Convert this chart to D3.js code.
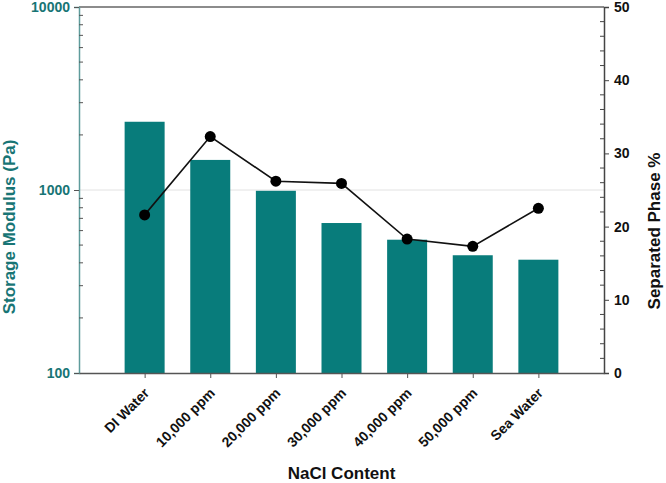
<!DOCTYPE html>
<html>
<head>
<meta charset="utf-8">
<script src="https://cdn.jsdelivr.net/npm/d3@7"></script>
<style>
	body { margin: 0; background: #fff; }
	text { font-family: Arial, "Liberation Sans", sans-serif; font-weight: bold; }
</style>
</head>
<body>
<div id="chart"></div>
<script>
// data
var categories = ["DI Water", "10,000 ppm", "20,000 ppm", "30,000 ppm", "40,000 ppm", "50,000 ppm", "Sea Water"];
var storageModulus = [2360, 1460, 990, 660, 535, 440, 416];
var separatedPhase = [21.6, 32.3, 26.2, 25.9, 18.3, 17.3, 22.5];
var leftTicks = [100, 1000, 10000];
var rightTicks = [0, 10, 20, 30, 40, 50];

var W = 666, H = 483;
var margin = { top: 7, right: 62, bottom: 110, left: 79 };
var width = W - margin.left - margin.right,
	height = H - margin.top - margin.bottom;

var teal = "#087c7b", tealText = "#187575", tealAxis = "#5f9c9c";

var svg = d3.select("#chart")
	.append("svg")
	.attr("width", W)
	.attr("height", H)
	.append("g")
	.attr("transform", "translate(" + margin.left + "," + margin.top + ")");

// X scale - categories sit on a point scale with one empty slot each side
var x = d3.scalePoint().domain(categories).range([0, width]).padding(1);

var yL = d3.scaleLog().domain([100, 10000]).range([height, 0]);
var yR = d3.scaleLinear().domain([0, 50]).range([height, 0]);

// gridline at 1000
svg.append("line")
	.attr("x1", 0).attr("x2", width)
	.attr("y1", yL(1000)).attr("y2", yL(1000))
	.attr("stroke", "#e2e2e2").attr("stroke-width", 1);

// top frame line
svg.append("line")
	.attr("x1", 0).attr("x2", width)
	.attr("y1", 0).attr("y2", 0)
	.attr("stroke", "#666").attr("stroke-width", 1.5);

// bars
var barW = 40;
svg.selectAll("rect.bar")
	.data(categories)
	.enter()
	.append("rect")
	.attr("class", "bar")
	.attr("x", function (d) { return x(d) - barW / 2; })
	.attr("y", function (d, i) { return yL(storageModulus[i]); })
	.attr("width", barW)
	.attr("height", function (d, i) { return height - yL(storageModulus[i]); })
	.attr("fill", teal);

// line + points
var line = d3.line()
	.x(function (d, i) { return x(categories[i]); })
	.y(function (d) { return yR(d); });

svg.append("path")
	.datum(separatedPhase)
	.attr("d", line)
	.attr("fill", "none")
	.attr("stroke", "#111")
	.attr("stroke-width", 1.6);

svg.selectAll("circle.pt")
	.data(separatedPhase)
	.enter()
	.append("circle")
	.attr("class", "pt")
	.attr("cx", function (d, i) { return x(categories[i]); })
	.attr("cy", function (d) { return yR(d); })
	.attr("r", 5.5)
	.attr("fill", "#000");

// Left axis (log) with minor ticks inside
var leftMinor = [];
[100, 1000].forEach(function (b) {
	for (var k = 2; k <= 9; k++) leftMinor.push(b * k);
});
var gL = svg.append("g")
	.call(d3.axisLeft(yL).tickValues(leftTicks).tickFormat(d3.format("d")).tickSize(5).tickPadding(4));
gL.select(".domain").attr("stroke", tealAxis).attr("stroke-width", 1.5);
gL.selectAll(".tick line").attr("stroke", "#555");
gL.selectAll(".tick text").attr("fill", tealText).style("font-size", "14px");
svg.append("g")
	.selectAll("line")
	.data(leftMinor)
	.enter()
	.append("line")
	.attr("x1", 0).attr("x2", 4)
	.attr("y1", function (d) { return yL(d); })
	.attr("y2", function (d) { return yL(d); })
	.attr("stroke", "#555");

// Right axis
var gR = svg.append("g")
	.attr("transform", "translate(" + width + ",0)")
	.call(d3.axisRight(yR).tickValues(rightTicks).tickSize(5).tickPadding(5));
gR.select(".domain").attr("stroke", "#444").attr("stroke-width", 1.5);
gR.selectAll(".tick line").attr("stroke", "#444");
gR.selectAll(".tick text").attr("fill", "#111").style("font-size", "14px");
svg.append("g")
	.attr("transform", "translate(" + width + ",0)")
	.selectAll("line")
	.data(d3.range(0, 51, 2).filter(function (d) { return d % 10 !== 0; }))
	.enter()
	.append("line")
	.attr("x1", -4).attr("x2", 0)
	.attr("y1", function (d) { return yR(d); })
	.attr("y2", function (d) { return yR(d); })
	.attr("stroke", "#444");

// Bottom axis
var gB = svg.append("g")
	.attr("transform", "translate(0," + height + ")")
	.call(d3.axisBottom(x).tickSize(5).tickSizeOuter(0));
gB.select(".domain").attr("stroke", "#555").attr("stroke-width", 1.5);
gB.selectAll(".tick line").attr("stroke", "#555");
gB.selectAll(".tick text")
	.attr("x", 0)
	.attr("y", 0)
	.attr("dx", null)
	.attr("dy", 0)
	.attr("fill", "#111")
	.style("font-size", "14px")
	.style("text-anchor", "end")
	.attr("transform", "translate(5,21) rotate(-45)");

// Axis titles
svg.append("text")
	.attr("transform", "rotate(-90)")
	.attr("x", -(227 - margin.top))
	.attr("y", -margin.left + 15)
	.style("text-anchor", "middle")
	.style("font-size", "17px")
	.attr("fill", tealText)
	.text("Storage Modulus (Pa)");

svg.append("text")
	.attr("transform", "rotate(-90)")
	.attr("x", -(231 - margin.top))
	.attr("y", width + 56)
	.style("text-anchor", "middle")
	.style("font-size", "17px")
	.attr("fill", "#111")
	.text("Separated Phase %");

svg.append("text")
	.attr("x", width / 2)
	.attr("y", H - margin.top - 4)
	.style("text-anchor", "middle")
	.style("font-size", "17px")
	.attr("fill", "#111")
	.text("NaCl Content");
</script>
</body>
</html>
